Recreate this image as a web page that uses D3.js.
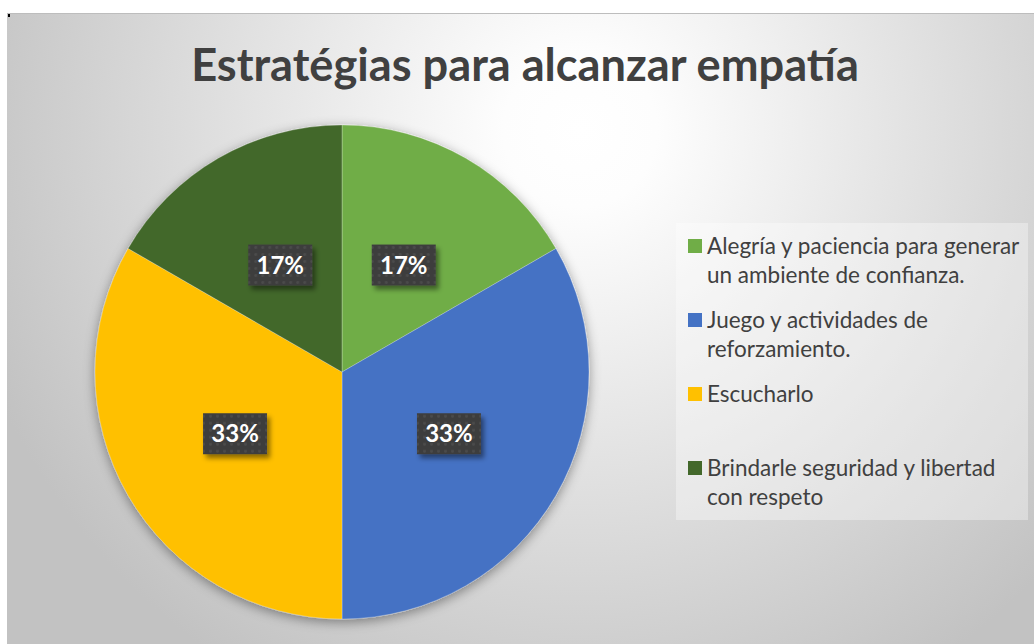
<!DOCTYPE html>
<html>
<head>
<meta charset="utf-8">
<script src="https://cdn.jsdelivr.net/npm/d3@7"></script>
<style>
  body { margin: 0; background: #fff; }
  svg { display: block; }
</style>
</head>
<body>
<svg id="chart"></svg>
<script>
(function() {
  /* Data */
  var title = "Estratégias para alcanzar empatía";
  var categories = [
    ["Alegría y paciencia para generar", "un ambiente de confianza."],
    ["Juego y actividades de", "reforzamiento."],
    ["Escucharlo"],
    ["Brindarle seguridad y libertad", "con respeto"]
  ];
  var values = [1, 2, 2, 1];
  var colors = ["#70AD47", "#4472C4", "#FFC000", "#43682B"];

  /* SVG properties */
  var width = 1034;
  var height = 644;
  var svg = d3.select("#chart")
              .attr("width", width)
              .attr("height", height);
  var defs = svg.append("defs");

  var bg = defs.append("radialGradient")
               .attr("id", "bg")
               .attr("gradientUnits", "userSpaceOnUse")
               .attr("cx", 580).attr("cy", 130).attr("r", 640);
  bg.append("stop").attr("offset", "0").attr("stop-color", "#ffffff");
  bg.append("stop").attr("offset", "0.12").attr("stop-color", "#fdfdfd");
  bg.append("stop").attr("offset", "1").attr("stop-color", "#c2c2c2");

  var shadow = defs.append("filter").attr("id", "shadow")
                   .attr("x", "-20%").attr("y", "-20%").attr("width", "140%").attr("height", "140%");
  shadow.append("feDropShadow").attr("dx", 0).attr("dy", 3).attr("stdDeviation", 6)
        .attr("flood-color", "#000").attr("flood-opacity", 0.4);

  var lblShadow = defs.append("filter").attr("id", "lblShadow")
                      .attr("x", "-30%").attr("y", "-30%").attr("width", "160%").attr("height", "170%");
  lblShadow.append("feDropShadow").attr("dx", 3).attr("dy", 4).attr("stdDeviation", 2.5)
           .attr("flood-color", "#000").attr("flood-opacity", 0.45);

  var dots = defs.append("pattern").attr("id", "dots")
                 .attr("patternUnits", "userSpaceOnUse")
                 .attr("width", 7).attr("height", 7);
  dots.append("rect").attr("width", 7).attr("height", 7).attr("fill", "#3e3e3e");
  dots.append("circle").attr("cx", 3.5).attr("cy", 3.5).attr("r", 1.4).attr("fill", "#4b4b4b");

  /* chart area */
  svg.append("rect")
     .attr("x", 7).attr("y", 13)
     .attr("width", width - 7).attr("height", height - 13)
     .attr("fill", "url(#bg)");
  svg.append("line")
     .attr("x1", 7).attr("x2", width).attr("y1", 13.5).attr("y2", 13.5)
     .attr("stroke", "#bdbdbd").attr("stroke-width", 1);
  svg.append("rect").attr("x", 8).attr("y", 14).attr("width", 2).attr("height", 3).attr("fill", "#000");

  /* title */
  svg.append("text")
     .attr("x", 525).attr("y", 81)
     .attr("text-anchor", "middle")
     .attr("font-family", "Lato, 'Open Sans', sans-serif")
     .attr("font-weight", "bold")
     .attr("font-size", 45.2)
     .attr("fill", "#404040")
     .text(title);

  /* pie */
  var cx = 342, cy = 372, radius = 247;
  var pie = d3.pie().sort(null).value(function(d) { return d; });
  var arc = d3.arc().innerRadius(0).outerRadius(radius);
  var labelArc = d3.arc().innerRadius(radius * 0.5).outerRadius(radius * 0.5);
  var arcs = pie(values);
  var total = d3.sum(values);

  var gPie = svg.append("g").attr("transform", "translate(" + cx + "," + cy + ")");
  gPie.append("g").attr("filter", "url(#shadow)")
      .selectAll("path")
      .data(arcs)
      .enter()
      .append("path")
      .attr("d", arc)
      .attr("fill", function(d, i) { return colors[i]; })
      .attr("stroke", "rgba(255,255,255,0.25)")
      .attr("stroke-width", 1);

  var labels = gPie.selectAll("g.lbl")
                   .data(arcs)
                   .enter()
                   .append("g")
                   .attr("class", "lbl")
                   .attr("transform", function(d) { return "translate(" + labelArc.centroid(d) + ")"; });
  labels.append("rect")
        .attr("x", -32).attr("y", -20.5)
        .attr("width", 64).attr("height", 41)
        .attr("fill", "url(#dots)")
        .attr("filter", "url(#lblShadow)");
  labels.append("text")
        .attr("text-anchor", "middle")
        .attr("dy", "0.36em")
        .attr("font-family", "Lato, 'Open Sans', sans-serif")
        .attr("font-weight", "bold")
        .attr("font-size", 24)
        .attr("fill", "#ffffff")
        .text(function(d) { return Math.round(d.value / total * 100) + "%"; });

  /* legend */
  svg.append("rect")
     .attr("x", 676).attr("y", 223)
     .attr("width", 352).attr("height", 297)
     .attr("fill", "#ffffff").attr("fill-opacity", 0.35);

  var legend = svg.selectAll("g.legend")
                  .data(categories)
                  .enter()
                  .append("g")
                  .attr("class", "legend")
                  .attr("transform", function(d, i) { return "translate(688," + (246 + i * 74) + ")"; });
  legend.append("rect")
        .attr("x", 0).attr("y", -7)
        .attr("width", 14).attr("height", 14)
        .attr("fill", function(d, i) { return colors[i]; });
  legend.append("text")
        .attr("font-family", "Lato, 'Open Sans', sans-serif")
        .attr("font-size", 22.5)
        .attr("fill", "#404040")
        .selectAll("tspan")
        .data(function(d) { return d; })
        .enter()
        .append("tspan")
        .attr("x", 19)
        .attr("y", function(d, j) { return j * 29; })
        .attr("dy", "0.35em")
        .text(function(d) { return d; });
})();
</script>
</body>
</html>
